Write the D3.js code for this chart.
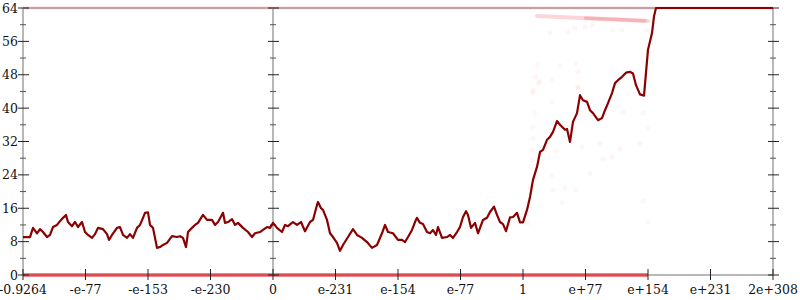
<!DOCTYPE html>
<html><head><meta charset="utf-8">
<script src="https://cdn.jsdelivr.net/npm/d3@7/dist/d3.min.js"></script>
<style>body{margin:0;background:#fff}svg{display:block}text{font-family:"DejaVu Serif",serif;font-size:12.5px;fill:#111}</style>
</head><body><svg id="c" width="800" height="300"></svg>
<script>
// x positions are in tick-index units (0..12), y in bits (0..64)
const xTickLabels = ["-0.9264","-e-77","-e-153","-e-230","0","e-231","e-154","e-77","1","e+77","e+154","e+231","2e+308"];
const yTicks = [0,8,16,24,32,40,48,56,64];
const yMinor = [4,12,20,28,36,44,52,60];
const axisPositions = [0,4,12];

const lineX = [0,0.112,0.16,0.224,0.272,0.32,0.384,0.432,0.48,0.544,0.592,0.64,0.688,0.72,0.784,0.832,0.88,0.944,0.992,1.04,1.104,1.152,1.2,1.28,1.344,1.376,1.424,1.504,1.552,1.6,1.664,1.712,1.76,1.824,1.872,1.92,1.952,2.0,2.032,2.08,2.144,2.192,2.24,2.304,2.384,2.464,2.512,2.56,2.608,2.64,2.704,2.752,2.8,2.88,2.944,3.024,3.072,3.12,3.2,3.232,3.28,3.344,3.392,3.44,3.52,3.6,3.664,3.712,3.792,3.84,3.904,3.952,4.0,4.064,4.144,4.192,4.24,4.32,4.384,4.448,4.512,4.592,4.64,4.704,4.72,4.768,4.8,4.864,4.912,4.96,5.024,5.072,5.12,5.2,5.28,5.344,5.424,5.504,5.584,5.664,5.744,5.792,5.84,5.92,6.0,6.064,6.112,6.16,6.224,6.272,6.304,6.352,6.4,6.464,6.512,6.56,6.608,6.64,6.704,6.784,6.832,6.88,6.944,6.992,7.04,7.088,7.12,7.168,7.232,7.28,7.36,7.424,7.472,7.536,7.584,7.632,7.68,7.728,7.792,7.84,7.904,7.952,8.0,8.064,8.112,8.16,8.224,8.272,8.32,8.384,8.432,8.48,8.544,8.592,8.672,8.704,8.752,8.8,8.864,8.912,8.96,9.024,9.072,9.12,9.2,9.264,9.312,9.36,9.424,9.472,9.52,9.584,9.648,9.712,9.76,9.808,9.872,9.936,10.0,10.064,10.096,10.128,12];
const lineY = [9.1,9.1,11.3,10,11,10.3,9.1,9.6,11.5,12,12.9,13.7,14.4,12.7,11.7,12.7,11.5,12.7,10.3,9.6,8.9,9.8,11.3,11,9.8,8.4,9.6,11.3,11.5,9.6,8.9,9.8,8.9,11.3,12,13.7,14.9,15,12,11.3,6.5,6.7,7.2,7.7,9.3,9.1,9.3,8.9,6.7,10.3,11.3,12,12.5,14.4,13.2,13.2,12,12.7,14.9,12.5,12.7,13.4,12,12.5,11.3,10.3,9.1,10,10.3,10.8,11.5,11.3,12.5,11.3,10.3,12,11.7,12.7,12,12.7,10.5,12.7,13.2,16.8,17.5,16,15.6,13.2,10,9.1,7.7,5.8,7.2,9.1,11,9.6,8.9,7.9,6.5,7.2,10,12,10.3,10,8.4,8.4,7.9,9.1,10.8,12.7,13.7,12.5,12.2,10.3,10,10.8,9.6,11.5,8.9,9.1,9.6,8.9,10.3,11.5,13.9,15.3,14.4,11.3,12.5,10,13.2,13.7,15.1,16.4,14.4,12.7,12.2,10.5,13.8,13.9,14.9,12.6,12.6,15.6,18.7,22.8,25.9,29.5,30,32.4,33.1,34.3,36.9,36,34.8,35,31.9,36.7,38.8,43.1,41.9,41.5,39.5,38.8,37.1,37.6,39.5,41.2,43.6,46,46.7,47.5,48.5,48.7,48.3,45.5,43.3,43,54,58,62,64,64];

// dense bands of faint points
const bandLow = [[0,0],[10,0]];
const bandTop = [[0,64],[12,64]];
const bandMid = [[8.224,62.1],[10.0,60.9]];
const bandMidDense = [[9.0,61.6],[9.95,60.95]];
// scattered faint points
const scatterX = [8.16,8.192,8.16,8.16,8.144,8.144,8.112,8.08,8.464,8.528,8.464,8.48,8.624,8.672,8.848,8.944,9.072,9.232,9.28,9.424,9.552,9.6,9.92,9.872,10.0,9.92,10.0,8.88,8.24,8.432,8.72,8.832,8.992,9.104,9.44,9.584,9.984,8.224,8.592,8.848,8.192,8.272,8.464,8.88,8.88,8.16];
const scatterY = [43.6,38.8,35.5,32.8,30,27.6,21,12.5,41.5,29.7,24,20.4,17.3,21,20.4,30.7,24.4,31.6,27.8,28.3,30.2,39,38.8,31.6,35,17.7,12.7,45,46,58,58.3,59.2,59.5,60,58.7,58.7,58.7,50.3,50.3,50.8,47.5,46.3,47,44.8,48.7,44.3];

const svg = d3.select("#c");
const x = d3.scaleLinear().domain([0,12]).range([23,773]);
const y = d3.scaleLinear().domain([0,64]).range([275,8]);
const frame = "#b8b8b8";

svg.selectAll(".vax").data(axisPositions).enter().append("line")
  .attr("x1",d=>x(d)).attr("x2",d=>x(d)).attr("y1",y(0)).attr("y2",y(64))
  .attr("stroke",frame).attr("stroke-width",2);
svg.selectAll(".hax").data([0,64]).enter().append("line")
  .attr("x1",x(0)).attr("x2",x(12)).attr("y1",d=>y(d)).attr("y2",d=>y(d))
  .attr("stroke",frame).attr("stroke-width",2);

const seg = d3.line().x(d=>x(d[0])).y(d=>y(d[1]));
svg.append("path").attr("d",seg(bandTop)).attr("stroke","rgba(240,80,90,0.22)").attr("stroke-width",3).attr("fill","none");
svg.append("path").attr("d",seg(bandLow)).attr("stroke","rgba(228,50,60,0.8)").attr("stroke-width",3.5).attr("fill","none");
svg.append("path").attr("d",seg(bandMid)).attr("stroke","rgba(240,90,100,0.25)").attr("stroke-width",4).attr("fill","none").attr("stroke-linecap","round");
svg.append("path").attr("d",seg(bandMidDense)).attr("stroke","rgba(235,70,80,0.25)").attr("stroke-width",3.5).attr("fill","none").attr("stroke-linecap","round");

svg.selectAll(".dot").data(scatterX.map((v,i)=>[v,scatterY[i]])).enter().append("circle")
  .attr("cx",d=>x(d[0])).attr("cy",d=>y(d[1])).attr("r",2.5)
  .attr("fill","rgba(240,80,90,0.06)");

axisPositions.forEach(p=>{
  const cx = x(p);
  svg.selectAll(null).data(yTicks).enter().append("line")
    .attr("x1",cx-5).attr("x2",cx+6).attr("y1",d=>y(d)).attr("y2",d=>y(d))
    .attr("stroke","#222").attr("stroke-width",1);
  svg.selectAll(null).data(yMinor).enter().append("line")
    .attr("x1",cx-3).attr("x2",cx+3).attr("y1",d=>y(d)).attr("y2",d=>y(d))
    .attr("stroke","#555").attr("stroke-width",1);
});
svg.selectAll(".xt").data(xTickLabels).enter().append("line")
  .attr("x1",(d,i)=>x(i)).attr("x2",(d,i)=>x(i)).attr("y1",y(0)-6).attr("y2",y(0)+5)
  .attr("stroke","#222").attr("stroke-width",1);
svg.selectAll(".xl").data(xTickLabels).enter().append("text")
  .attr("x",(d,i)=>x(i)).attr("y",294).attr("text-anchor","middle").text(d=>d);
svg.selectAll(".yl").data(yTicks).enter().append("text")
  .attr("x",18).attr("y",d=>y(d)+4.5).attr("text-anchor","end").text(d=>d);

svg.append("path").datum(lineX.map((v,i)=>[v,lineY[i]]))
  .attr("d",d3.line().x(d=>x(d[0])).y(d=>y(d[1])))
  .attr("fill","none").attr("stroke","#8b0000").attr("stroke-width",2.2).attr("stroke-linejoin","round");
</script></body></html>
